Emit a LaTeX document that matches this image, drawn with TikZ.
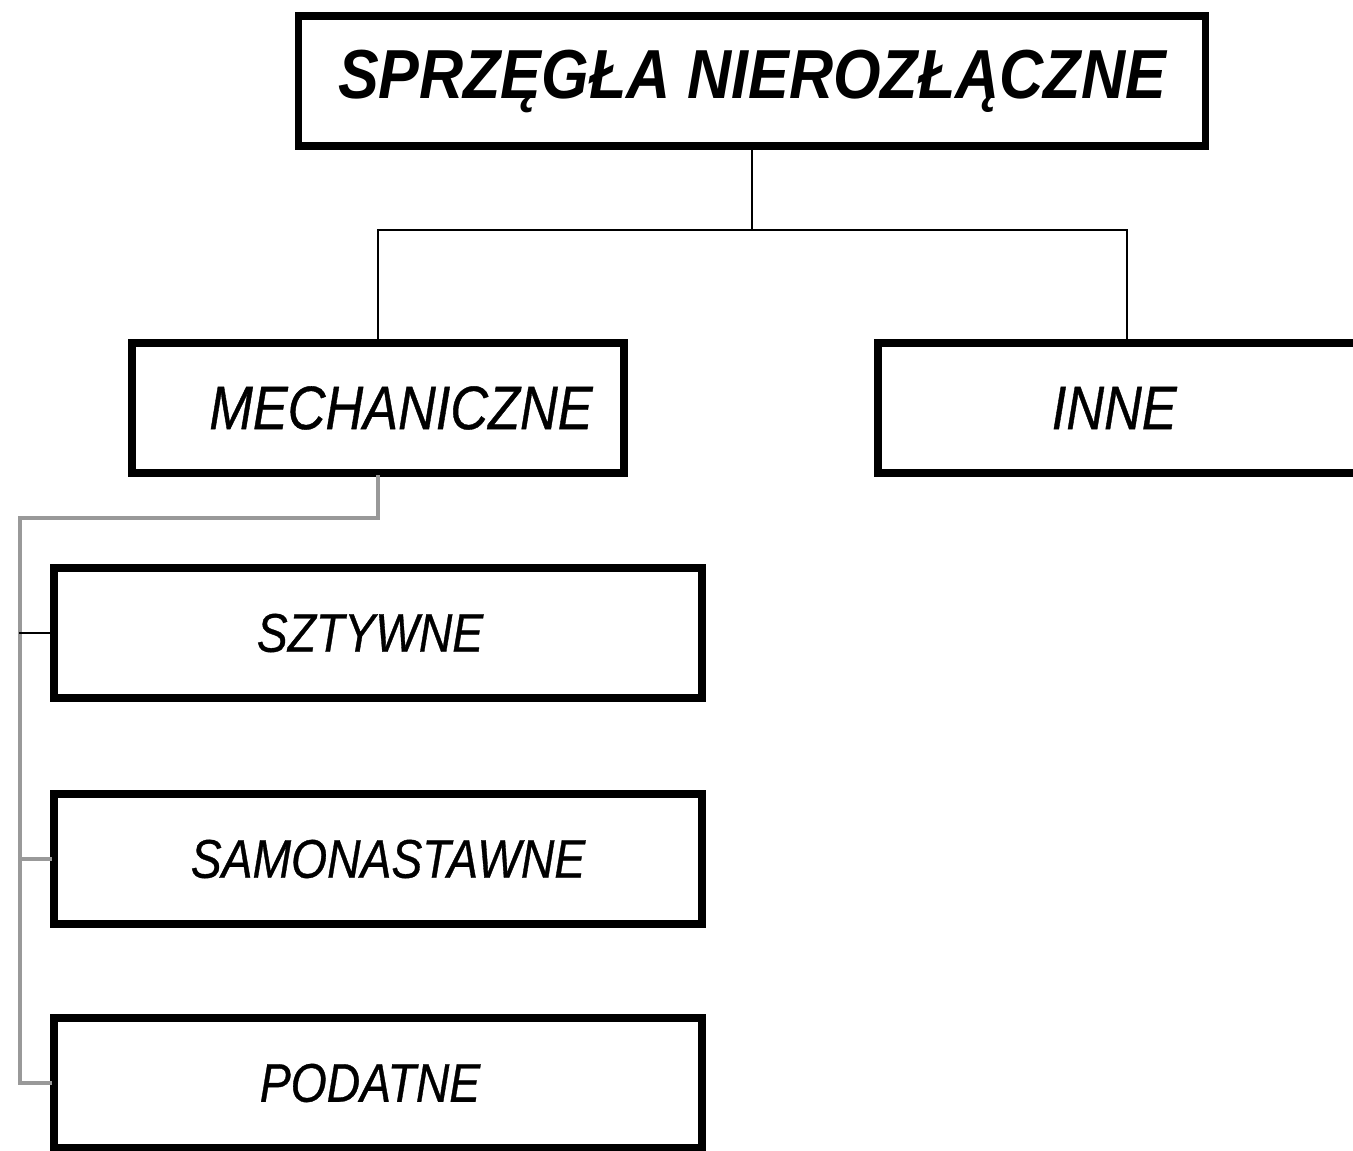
\documentclass[tikz,border=0pt]{standalone}
\usepackage{fontspec}
\setmainfont{Liberation Sans}
\newfontfamily\titlefont[FakeStretch=0.88]{Liberation Sans}
\newfontfamily\boxfont[FakeStretch=0.85, FakeBold=0.6]{Liberation Sans}
\usetikzlibrary{positioning}

\begin{document}
\begin{tikzpicture}[x=0.02cm, y=-0.02cm, line cap=rect, line join=miter,
		box/.style={draw, line width=4.4pt, inner sep=0pt, minimum height=2.6cm},
		conn/.style={draw, line width=1.2pt},
		gline/.style={draw, gray!80, line width=1.8pt}]
	% Page frame (pixel units of the picture)
	\useasboundingbox (0,0) rectangle (1353,1151);
	\clip (0,0) rectangle (1353,1151);
	
	% Top box
	\node[box, minimum width=18.14cm, font=\titlefont\bfseries\itshape\fontsize{39.5}{40}\selectfont]
		(top) at (752,81) {SPRZĘGŁA NIEROZŁĄCZNE};
	
	% Second level
	\node[box, minimum width=9.84cm, font=\boxfont\itshape\fontsize{35}{36}\selectfont]
		(mech) at (378,408) {\hspace*{0.92cm}MECHANICZNE};
	\node[box, minimum width=10.45cm, font=\boxfont\itshape\fontsize{35}{36}\selectfont]
		(inne) at (1139,408) {\hspace*{-0.99cm}INNE};
	
	% Third level
	\node[box, minimum width=12.96cm, font=\boxfont\itshape\fontsize{31}{32}\selectfont]
		(szt) at (378,633) {\hspace*{-0.32cm}SZTYWNE};
	\node[box, minimum width=12.96cm, font=\boxfont\itshape\fontsize{31}{32}\selectfont]
		(samo) at (378,859) {\hspace*{0.4cm}SAMONASTAWNE};
	\node[box, minimum width=12.96cm, font=\boxfont\itshape\fontsize{31}{32}\selectfont]
		(pod) at (378,1083) {\hspace*{-0.32cm}PODATNE};
	
	% Branch points
	\coordinate (split) at (752,230);
	\coordinate (bus) at (20,518);
	
	% Black connectors from the top box
	\draw[conn] (top.south) -- (split) -| (mech.north);
	\draw[conn] (split) -| ([xshift=-0.24cm]inne.north);
	
	% Grey bus on the left
	\draw[gline] (mech.south) |- (bus) |- (pod.west);
	\draw[gline] (bus |- samo.west) -- (samo.west);
	\draw[conn, line width=1.4pt] (bus |- szt.west) -- (szt.west);
\end{tikzpicture}
\end{document}
